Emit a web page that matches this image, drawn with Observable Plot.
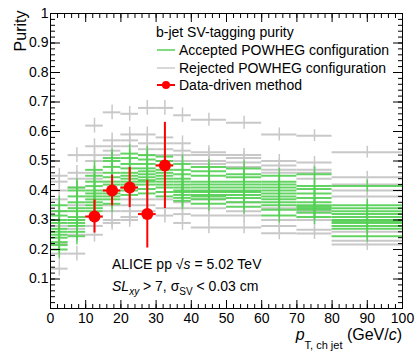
<!DOCTYPE html>
<html><head><meta charset="utf-8">
<script src="https://cdn.jsdelivr.net/npm/d3@7"></script>
<script src="https://cdn.jsdelivr.net/npm/@observablehq/plot@0.6"></script>
<style>body{margin:0;background:#fff;} svg{display:block}</style>
</head><body><div id="chart"></div>
<script>
// pT bin edges (GeV/c)
const binEdges = [0,5,10,15,20,25,30,35,40,50,60,70,80,100];
// Accepted POWHEG configurations: purity values per bin
const acceptedPurity = [
 [0.35,0.33,0.315,0.30,0.29,0.27,0.26,0.25,0.24,0.225,0.215,0.20],
 [0.41,0.40,0.38,0.36,0.34,0.33,0.31,0.30,0.29,0.28,0.26,0.245],
 [0.47,0.45,0.43,0.415,0.40,0.39,0.38,0.37,0.36,0.35,0.34,0.33],
 [0.51,0.50,0.48,0.46,0.445,0.43,0.42,0.40,0.39,0.38,0.37,0.355],
 [0.525,0.51,0.49,0.475,0.46,0.45,0.44,0.43,0.42,0.41,0.40,0.385],
 [0.52,0.505,0.49,0.475,0.465,0.455,0.445,0.435,0.43,0.42,0.405,0.39],
 [0.515,0.50,0.485,0.47,0.46,0.45,0.44,0.43,0.42,0.41,0.395,0.38],
 [0.49,0.47,0.455,0.44,0.43,0.42,0.41,0.40,0.395,0.385,0.375,0.365],
 [0.48,0.465,0.45,0.43,0.42,0.41,0.40,0.395,0.385,0.38,0.37,0.355],
 [0.475,0.455,0.445,0.43,0.42,0.41,0.40,0.395,0.385,0.375,0.36,0.345],
 [0.45,0.43,0.42,0.41,0.40,0.39,0.38,0.37,0.36,0.35,0.335,0.315],
 [0.455,0.415,0.405,0.39,0.375,0.36,0.35,0.345,0.34,0.335,0.325,0.31],
 [0.415,0.35,0.34,0.33,0.32,0.31,0.30,0.295,0.29,0.28,0.27,0.245]
];
const acceptedError = [0.03,0.03,0.03,0.03,0.03,0.03,0.03,0.03,0.025,0.025,0.025,0.025,0.02];
// Rejected POWHEG configurations: purity values per bin
const rejectedPurity = [
 [0.45,0.43,0.40,0.37,0.33,0.28,0.22,0.186,0.135],
 [0.52,0.46,0.44,0.41,0.35,0.30,0.27,0.25,0.186],
 [0.62,0.55,0.52,0.50,0.46,0.44,0.31,0.28,0.25],
 [0.665,0.57,0.55,0.535,0.52,0.35,0.33,0.30,0.29],
 [0.66,0.59,0.57,0.55,0.37,0.35,0.33,0.31,0.30],
 [0.68,0.59,0.56,0.54,0.52,0.37,0.35,0.33,0.32],
 [0.68,0.58,0.56,0.54,0.52,0.50,0.37,0.34,0.315],
 [0.655,0.56,0.535,0.52,0.50,0.36,0.34,0.32,0.29],
 [0.64,0.53,0.52,0.50,0.49,0.37,0.34,0.315,0.275],
 [0.63,0.52,0.51,0.495,0.48,0.36,0.33,0.315,0.275],
 [0.59,0.50,0.485,0.47,0.46,0.34,0.30,0.28,0.255],
 [0.586,0.495,0.47,0.46,0.44,0.33,0.30,0.267,0.254],
 [0.53,0.445,0.42,0.40,0.38,0.30,0.26,0.23,0.217]
];
const rejectedError = [0.025,0.025,0.025,0.025,0.025,0.025,0.025,0.025,0.022,0.022,0.022,0.02,0.02];
// Data-driven method
const dataLow  = [10,15,20,25,30];
const dataHigh = [15,20,25,30,35];
const dataPurity = [0.312,0.40,0.41,0.32,0.485];
const dataError  = [0.056,0.052,0.068,0.115,0.146];

const xMajor = d3.range(0,101,10);
const xMinor = d3.range(0,101,2);
const yMajor = d3.range(1,11).map(i => i/10);
const yMinor = d3.range(0,51).map(i => i/50);

function rows(table, errs) {
  return table.flatMap((vals, i) => vals.map(v => ({
    x1: binEdges[i], x2: binEdges[i+1], xc: (binEdges[i]+binEdges[i+1])/2, y: v, e: errs[i]
  })));
}
const accRows = rows(acceptedPurity, acceptedError);
const rejRows = rows(rejectedPurity, rejectedError);
const dataRows = dataPurity.map((y, i) => ({x1: dataLow[i], x2: dataHigh[i], xc: (dataLow[i]+dataHigh[i])/2, y, e: dataError[i]}));

const GREEN = "#52cf52", GRAY = "#c8c8c8", RED = "#ff0000";
const noText = () => "";

const svgPlot = Plot.plot({
  width: 415, height: 353,
  marginLeft: 50, marginRight: 13, marginTop: 13, marginBottom: 45,
  style: {fontFamily: "'Liberation Sans', Arial, Helvetica, sans-serif", fontSize: "14px", background: "#fff", color: "#000"},
  x: {domain: [0,100]},
  y: {domain: [0,1]},
  marks: [
    Plot.ruleX(rejRows, {x: "xc", y1: d => d.y - d.e, y2: d => d.y + d.e, stroke: GRAY, strokeWidth: 1.5}),
    Plot.ruleY(rejRows, {y: "y", x1: "x1", x2: "x2", stroke: GRAY, strokeWidth: 2}),
    Plot.ruleX(accRows, {x: "xc", y1: d => d.y - d.e, y2: d => d.y + d.e, stroke: GREEN, strokeWidth: 1.5, strokeOpacity: 0.9}),
    Plot.ruleY(accRows, {y: "y", x1: "x1", x2: "x2", stroke: GREEN, strokeWidth: 2, strokeOpacity: 0.9}),
    Plot.ruleX(dataRows, {x: "xc", y1: d => d.y - d.e, y2: d => d.y + d.e, stroke: RED, strokeWidth: 2}),
    Plot.ruleY(dataRows, {y: "y", x1: "x1", x2: "x2", stroke: RED, strokeWidth: 2}),
    Plot.dot(dataRows, {x: "xc", y: "y", r: 6, fill: RED, stroke: "none"}),
    Plot.frame({stroke: "#000", strokeWidth: 1}),
    // labels
    Plot.axisX(xMajor, {anchor: "bottom", tickSize: 0, tickPadding: 5, label: null, fontSize: 14}),
    Plot.axisY(yMajor, {anchor: "left", tickSize: 0, tickPadding: 2, label: null, fontSize: 14, tickFormat: d => d === 1 ? "1" : d.toFixed(1)}),
    // inward ticks
    Plot.axisX(xMajor, {anchor: "bottom", tickSize: 8, dy: -8, tickFormat: noText, label: null}),
    Plot.axisX(xMinor, {anchor: "bottom", tickSize: 4, dy: -4, tickFormat: noText, label: null}),
    Plot.axisX(xMajor, {anchor: "top", tickSize: 8, dy: 8, tickFormat: noText, label: null}),
    Plot.axisX(xMinor, {anchor: "top", tickSize: 4, dy: 4, tickFormat: noText, label: null}),
    Plot.axisY(yMajor, {anchor: "left", tickSize: 10, dx: 10, tickFormat: noText, label: null}),
    Plot.axisY(yMinor, {anchor: "left", tickSize: 5, dx: 5, tickFormat: noText, label: null}),
    Plot.axisY(yMajor, {anchor: "right", tickSize: 10, dx: -10, tickFormat: noText, label: null}),
    Plot.axisY(yMinor, {anchor: "right", tickSize: 5, dx: -5, tickFormat: noText, label: null}),
    Plot.text(["Purity"], {frameAnchor: "top-left", text: d => d, rotate: -90, textAnchor: "end", dx: -36, dy: -3, fontSize: 16})
  ]
});
document.getElementById("chart").appendChild(svgPlot);

const svg = d3.select(svgPlot);
// x-axis title
const xt = svg.append("text").attr("x", 402).attr("y", 340).attr("text-anchor", "end").attr("font-size", 16);
xt.append("tspan").attr("font-style", "italic").text("p");
xt.append("tspan").attr("font-size", 11).attr("dy", 9).text("T, ch jet");
xt.append("tspan").attr("dy", -9).text(" (GeV/");
xt.append("tspan").attr("font-style", "italic").text("c");
xt.append("tspan").text(")");

// annotations
const a1 = svg.append("text").attr("x", 112).attr("y", 269).attr("font-size", 14).attr("text-anchor", "start");
a1.append("tspan").text("ALICE pp √");
a1.append("tspan").attr("font-style", "italic").text("s");
a1.append("tspan").text(" = 5.02 TeV");
const a2 = svg.append("text").attr("x", 112).attr("y", 291).attr("font-size", 14).attr("text-anchor", "start");
a2.append("tspan").attr("font-style", "italic").text("SL");
a2.append("tspan").attr("font-style", "italic").attr("font-size", 10).attr("dy", 4).text("xy");
a2.append("tspan").attr("dy", -4).text(" > 7, σ");
a2.append("tspan").attr("font-size", 10).attr("dy", 4).text("SV");
a2.append("tspan").attr("dy", -4).text(" < 0.03 cm");

// legend
const lg = svg.append("g").attr("font-size", 14).attr("text-anchor", "start");
lg.append("text").attr("x", 156).attr("y", 37).text("b-jet SV-tagging purity");
const entries = [
  {label: "Accepted POWHEG configuration", color: "#7fdc7f", y: 55},
  {label: "Rejected POWHEG configuration", color: "#d8d8d8", y: 73},
  {label: "Data-driven method", color: RED, y: 90, marker: true}
];
entries.forEach(e => {
  lg.append("line").attr("x1", 157).attr("x2", 175).attr("y1", e.y - 5).attr("y2", e.y - 5)
    .attr("stroke", e.color).attr("stroke-width", 2);
  if (e.marker) lg.append("circle").attr("cx", 166).attr("cy", e.y - 5).attr("r", 4).attr("fill", RED);
  lg.append("text").attr("x", 179).attr("y", e.y).text(e.label);
});
</script>
</body></html>
